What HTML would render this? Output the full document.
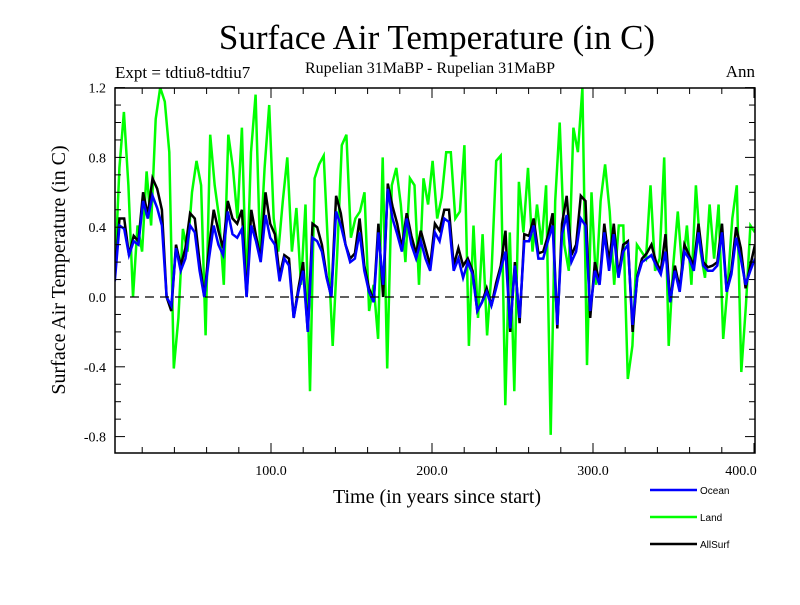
<!DOCTYPE html>
<html><head><meta charset="utf-8"><style>
body{margin:0;background:#fff;}
svg text{font-family:"Liberation Serif",serif;}
</style></head><body>
<svg id="chart" width="800" height="600" xmlns="http://www.w3.org/2000/svg">
<rect width="800" height="600" fill="#fff"/>
<text x="437" y="49" font-size="35" text-anchor="middle">Surface Air Temperature (in C)</text>
<text x="115" y="78" font-size="17">Expt = tdtiu8-tdtiu7</text>
<text x="430" y="73" font-size="16" text-anchor="middle">Rupelian  31MaBP - Rupelian  31MaBP</text>
<text x="755" y="77" font-size="17" text-anchor="end">Ann</text>
<text transform="translate(65,270) rotate(-90)" font-size="20" text-anchor="middle">Surface Air Temperature (in C)</text>
<text x="437" y="503" font-size="20" text-anchor="middle">Time (in years since start)</text>
<g id="plot"></g>
<g>
<line x1="650" y1="490" x2="697" y2="490" stroke="#0000ff" stroke-width="2.5"/>
<text x="700" y="494" font-size="10" style="font-family:'Liberation Sans',sans-serif">Ocean</text>
<line x1="650" y1="517" x2="697" y2="517" stroke="#00ff00" stroke-width="2.5"/>
<text x="700" y="521" font-size="10" style="font-family:'Liberation Sans',sans-serif">Land</text>
<line x1="650" y1="544" x2="697" y2="544" stroke="#000" stroke-width="2.5"/>
<text x="700" y="548" font-size="10" style="font-family:'Liberation Sans',sans-serif">AllSurf</text>
</g>
</svg>
<script>
const yTicks=[1.2,0.8,0.4,0.0,-0.4,-0.8];
const yTickLabels=["1.2","0.8","0.4","0.0","-0.4","-0.8"];
const xTicks=[100,200,300,400];
const xTickLabels=["100.0","200.0","300.0","400.0"];
const yearStart=3, yearEnd=400.6;
const ocean=[0.09,0.41,0.39,0.24,0.32,0.30,0.55,0.45,0.58,0.51,0.41,0.0,-0.05,0.28,0.15,0.22,0.41,0.37,0.15,0.0,0.22,0.41,0.30,0.24,0.49,0.36,0.34,0.39,0.0,0.41,0.32,0.20,0.47,0.34,0.30,0.09,0.22,
0.18,-0.12,0.03,0.15,-0.2,0.34,0.32,0.26,0.11,0.0,0.49,0.41,0.30,0.20,0.22,0.37,0.15,0.03,-0.03,0.37,0.07,0.62,0.45,0.36,0.26,0.45,0.30,0.22,0.32,0.22,0.15,0.37,0.32,0.45,
0.43,0.15,0.22,0.11,0.20,0.13,-0.08,-0.03,0.03,-0.05,0.05,0.16,0.26,-0.18,0.18,-0.12,0.32,0.32,0.41,0.22,0.22,0.32,0.41,-0.16,0.36,0.47,0.20,0.26,0.45,0.41,-0.08,0.15,0.07,0.37,
0.15,0.36,0.11,0.26,0.30,-0.16,0.11,0.20,0.22,0.24,0.18,0.13,0.26,-0.03,0.15,0.03,0.26,0.22,0.15,0.37,0.18,0.15,0.15,0.18,0.37,0.03,0.13,0.34,0.22,0.07,0.15,0.22];
const allsurf=[0.12,0.45,0.45,0.24,0.35,0.32,0.6,0.47,0.68,0.62,0.5,0.0,-0.08,0.3,0.18,0.28,0.48,0.45,0.2,0.0,0.28,0.5,0.38,0.28,0.55,0.45,0.42,0.5,0.0,0.5,0.35,0.22,0.6,0.42,0.36,0.12,0.24,
0.22,-0.12,0.05,0.2,-0.2,0.42,0.4,0.3,0.12,0.0,0.58,0.48,0.3,0.22,0.25,0.45,0.18,0.05,-0.02,0.42,0.0,0.65,0.52,0.42,0.28,0.48,0.35,0.25,0.38,0.28,0.18,0.42,0.38,0.5,
0.5,0.18,0.28,0.18,0.22,0.15,-0.08,-0.03,0.05,-0.05,0.08,0.18,0.38,-0.2,0.2,-0.15,0.36,0.35,0.45,0.25,0.26,0.35,0.48,-0.18,0.42,0.58,0.24,0.3,0.58,0.55,-0.12,0.2,0.08,0.42,
0.2,0.42,0.12,0.3,0.32,-0.2,0.12,0.22,0.25,0.3,0.2,0.15,0.36,-0.03,0.18,0.05,0.3,0.24,0.18,0.42,0.2,0.17,0.18,0.2,0.42,0.03,0.15,0.4,0.28,0.05,0.18,0.3];
const land=[0.11,0.74,1.06,0.64,0.0,0.41,0.26,0.72,0.41,1.02,1.2,1.12,0.83,-0.41,-0.12,0.39,0.26,0.60,0.78,0.64,-0.22,0.93,0.64,0.45,0.07,0.93,0.74,0.45,0.97,0.03,0.83,1.16,0.26,0.74,1.10,0.45,0.26,0.55,
0.80,0.26,0.51,0.07,0.53,-0.54,0.68,0.76,0.81,0.26,-0.28,0.26,0.87,0.93,0.34,0.45,0.49,0.60,-0.08,0.07,-0.24,0.80,-0.41,0.64,0.74,0.53,0.20,0.68,0.64,0.07,0.68,0.53,0.78,0.45,0.57,0.83,
0.83,0.45,0.49,0.87,-0.28,0.41,-0.12,0.36,-0.22,0.15,0.78,0.81,-0.62,0.37,-0.54,0.66,0.37,0.74,0.26,0.53,0.30,0.64,-0.79,0.55,1.0,0.30,0.15,0.97,0.83,1.2,-0.39,0.60,0.07,0.55,
0.76,0.49,0.07,0.41,0.41,-0.47,-0.28,0.30,0.26,0.22,0.64,0.15,0.22,0.80,-0.28,0.18,0.49,0.15,0.41,0.07,0.64,0.26,0.11,0.53,0.22,0.53,-0.24,0.07,0.45,0.64,-0.43,-0.05,0.41,0.37];

const NS="http://www.w3.org/2000/svg";
const L=115,R=755,T=88,B=453;
const xScale=y=>110+(y)*1.61;
const yScale=v=>297-v*174.5;
const g=document.getElementById('plot');
function mk(tag,attrs,parent){const e=document.createElementNS(NS,tag);for(const k in attrs)e.setAttribute(k,attrs[k]);(parent||g).appendChild(e);return e;}
function series(vals,color,name){
  const n=vals.length;let pts=[];
  for(let i=0;i<n;i++){const yr=yearStart+(yearEnd-yearStart)*i/(n-1);pts.push(xScale(yr).toFixed(1)+","+yScale(vals[i]).toFixed(1));}
  const p=mk('polyline',{points:pts.join(' '),fill:'none',stroke:color,'stroke-width':2.5,'stroke-linejoin':'miter'});
  
  
}
const clip=mk('clipPath',{id:'pc'});mk('rect',{x:L,y:T,width:R-L,height:B-T},clip);
const sg=mk('g',{'clip-path':'url(#pc)'});
const gg=g;
(function(){const old=g;})();
function seriesIn(vals,color,name){const n=vals.length;let pts=[];
  for(let i=0;i<n;i++){const yr=yearStart+(yearEnd-yearStart)*i/(n-1);pts.push(xScale(yr).toFixed(1)+","+yScale(vals[i]).toFixed(1));}
  const p=mk('polyline',{points:pts.join(' '),fill:'none',stroke:color,'stroke-width':2.5},sg);
  
  }
seriesIn(land,'#00ff00','land-line');
seriesIn(allsurf,'#000000','allsurf-line');
seriesIn(ocean,'#0000ff','ocean-line');
const z=mk('line',{x1:L,x2:R,y1:yScale(0),y2:yScale(0),stroke:'#000','stroke-width':1.2,'stroke-dasharray':'9,6'});


const fr=mk('rect',{x:L,y:T,width:R-L,height:B-T,fill:'none',stroke:'#000','stroke-width':1.5});


for(let v=-0.8;v<=1.21;v+=0.1){const y=yScale(v);const major=Math.abs(Math.round(v*10)%4)==0;const len=major?10:6;
  mk('line',{x1:L,x2:L+len,y1:y,y2:y,stroke:'#000'});mk('line',{x1:R,x2:R-len,y1:y,y2:y,stroke:'#000'});}
for(let yr=20;yr<=400;yr+=20){const x=xScale(yr);const len=(yr%100==0)?10:6;
  mk('line',{x1:x,x2:x,y1:B,y2:B-len,stroke:'#000'});mk('line',{x1:x,x2:x,y1:T,y2:T+len,stroke:'#000'});}
yTicks.forEach((v,i)=>{const t=mk('text',{x:106,y:yScale(v)+5,'font-size':14,'text-anchor':'end'});t.textContent=yTickLabels[i];
  
  });
xTicks.forEach((v,i)=>{const x=Math.min(xScale(v),741);const t=mk('text',{x:x,y:475,'font-size':14,'text-anchor':'middle'});t.textContent=xTickLabels[i];
  
  });
</script>
</body></html>
